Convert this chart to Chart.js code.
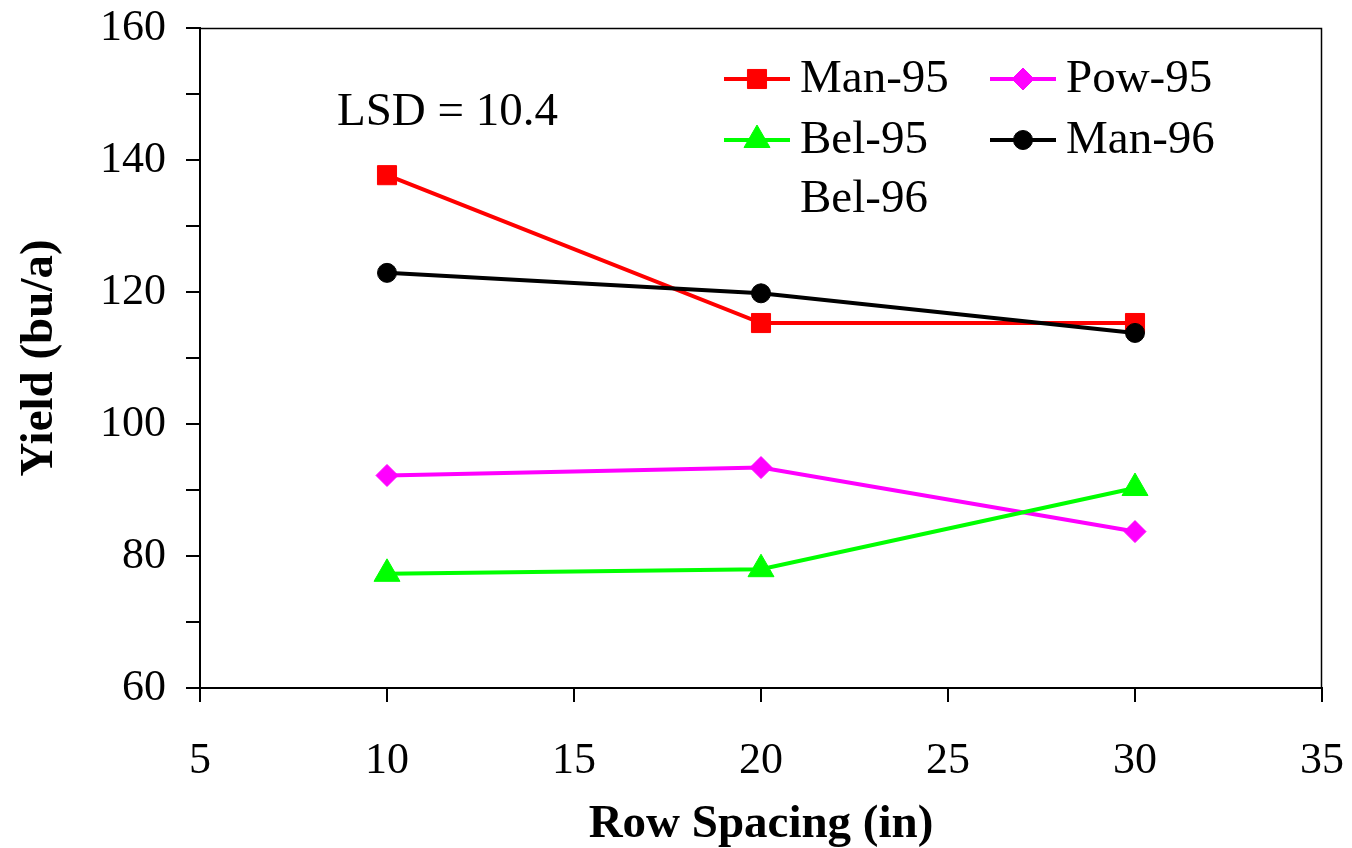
<!DOCTYPE html>
<html>
<head>
<meta charset="utf-8">
<script src="https://cdn.jsdelivr.net/npm/chart.js@4"></script>
<style>
  body { margin: 0; background: #fff; }
  #wrap { width: 1352px; height: 848px; }
</style>
</head>
<body>
<div id="wrap"><canvas id="myChart"></canvas></div>
<script>
// row spacing (in) and yield (bu/a) per series
const spacing = [10, 20, 30];
const man95 = [137.7, 115.3, 115.3];
const pow95 = [92.2, 93.4, 83.7];
const bel95 = [77.3, 78.0, 90.3];
const man96 = [122.9, 119.8, 113.8];
const bel96 = [null, null, null];

const xTicks = [5, 10, 15, 20, 25, 30, 35];
const yTicks = [60, 80, 100, 120, 140, 160];
const lsdText = 'LSD = 10.4';

const serif = 'Liberation Serif';

function pts(vals) {
    return spacing.map((x, i) => ({ x: x, y: vals[i] }));
}

function series(label, vals, color, style, radius, order) {
    return {
        label: label,
        data: pts(vals),
        borderColor: color,
        backgroundColor: color,
        borderWidth: 4,
        pointStyle: style,
        pointRadius: radius,
        pointBorderWidth: 1,
        pointBorderColor: color,
        pointBackgroundColor: color,
        tension: 0,
        order: order, // later series drawn on top, like the original
    };
}

// legend in two columns, drawn inside the plot
const legendBox = {
    id: 'legendBox',
    afterDraw(chart) {
        const c = chart.ctx;
        const colX = [724, 990];
        const rowY = [79, 140, 199];
        c.save();
        chart.data.datasets.forEach((ds, i) => {
            const x0 = colX[i % 2];
            const y = rowY[Math.floor(i / 2)];
            if (ds.data.some(p => p.y !== null)) {
                c.strokeStyle = ds.borderColor;
                c.lineWidth = 4;
                c.beginPath();
                c.moveTo(x0, y);
                c.lineTo(x0 + 66, y);
                c.stroke();
                c.fillStyle = ds.pointBackgroundColor;
                c.strokeStyle = ds.pointBorderColor;
                c.lineWidth = 1;
                Chart.helpers.drawPoint(c, {
                    pointStyle: ds.pointStyle,
                    radius: ds.pointRadius,
                    rotation: 0,
                    borderWidth: 1
                }, x0 + 33, y);
            }
            c.fillStyle = '#000';
            c.font = '47px "' + serif + '"';
            c.textBaseline = 'middle';
            c.textAlign = 'left';
            c.fillText(ds.label, x0 + 76, y + 1);
        });
        // LSD note
        c.textBaseline = 'alphabetic';
        c.fillText(lsdText, 337, 125);
        // thin frame on top and right
        const a = chart.chartArea;
        c.strokeStyle = '#000';
        c.lineWidth = 1.5;
        c.beginPath();
        c.moveTo(a.left, a.top + 0.5);
        c.lineTo(a.right - 0.5, a.top + 0.5);
        c.lineTo(a.right - 0.5, a.bottom);
        c.stroke();
        c.restore();
    }
};

new Chart(document.getElementById('myChart'), {
    type: 'line',
    data: {
        datasets: [
            series('Man-95', man95, '#ff0000', 'rect', 13.5, 0),
            series('Pow-95', pow95, '#ff00ff', 'rectRot', 11, -1),
            series('Bel-95', bel95, '#00ff00', 'triangle', 15, -2),
            series('Man-96', man96, '#000000', 'circle', 9.5, -3),
            series('Bel-96', bel96, '#ffffff', 'line', 0, -4),
        ]
    },
    options: {
        responsive: true,
        maintainAspectRatio: false,
        animation: false,
        layout: { padding: { top: 28, right: 30, left: 0, bottom: 0 } },
        plugins: {
            legend: { display: false },
            tooltip: { enabled: false },
        },
        scales: {
            x: {
                type: 'linear',
                min: 5,
                max: 35,
                afterBuildTicks: s => { s.ticks = xTicks.map(v => ({ value: v })); },
                afterFit: s => {
                    s.height = 160;
                    s.paddingLeft = 0;
                    s.paddingRight = 0;
                },
                ticks: {
                    color: '#000',
                    font: { family: serif, size: 44 },
                    padding: 33,
                    maxRotation: 0,
                },
                grid: {
                    drawOnChartArea: false,
                    color: '#000',
                    lineWidth: 2,
                    tickLength: 14,
                },
                border: { color: '#000', width: 2 },
                title: {
                    display: true,
                    text: 'Row Spacing (in)',
                    color: '#000',
                    font: { family: serif, size: 47, weight: 'bold', lineHeight: 1 },
                    padding: { top: 0, bottom: 0 },
                },
            },
            y: {
                min: 60,
                max: 160,
                afterBuildTicks: s => {
                    const t = [];
                    for (let v = 60; v <= 160; v += 10) t.push({ value: v });
                    s.ticks = t;
                },
                afterFit: s => {
                    s.width = 200;
                    s.paddingTop = 0;
                    s.paddingBottom = 0;
                },
                ticks: {
                    color: '#000',
                    font: { family: serif, size: 44 },
                    padding: 20,
                    callback: v => yTicks.includes(v) ? String(v) : '',
                },
                grid: {
                    drawOnChartArea: false,
                    color: '#000',
                    lineWidth: 2,
                    tickLength: 14,
                },
                border: { color: '#000', width: 2 },
                title: {
                    display: true,
                    text: 'Yield (bu/a)',
                    color: '#000',
                    font: { family: serif, size: 47, weight: 'bold', lineHeight: 1 },
                    padding: { top: 16, bottom: 0 },
                },
            },
        }
    },
    plugins: [legendBox]
});
</script>
</body>
</html>
